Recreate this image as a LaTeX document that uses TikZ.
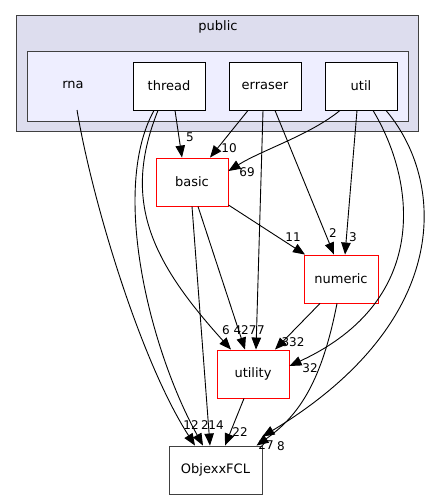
\documentclass[tikz,border=0pt]{standalone}
\usepackage{fontspec}
\setmainfont{DejaVu Sans}
\usetikzlibrary{arrows.meta}
\definecolor{clouter}{HTML}{DDDDEE}
\definecolor{clinner}{HTML}{EEEEFF}
\definecolor{clline}{HTML}{404040}
\begin{document}
\begin{tikzpicture}[x=1pt,y=-1pt,
  box/.style={draw=black,fill=white,minimum width=72pt,minimum height=48pt,inner sep=0pt,line width=0.9pt,font=\fontsize{13}{15}\selectfont},
  redbox/.style={box,draw=red},
  lbl/.style={font=\fontsize{12}{14}\selectfont,inner sep=0pt},
  dep/.style={-{Triangle[length=12pt,width=9.5pt]},line width=0.9pt}]
\useasboundingbox (0,0) rectangle (435,500);
\fill[white] (0,0) rectangle (435,500);
% clusters
\draw[fill=clouter,draw=clline,line width=1pt] (16,16) rectangle (418,131);
\node[lbl,font=\fontsize{13}{15}\selectfont] (publbl) at (218,27) {public};
\draw[fill=clinner,draw=clline,line width=1pt] (27,52) rectangle (408,121);
% nodes
\node[lbl,font=\fontsize{13}{15}\selectfont] (rna) at (73,85) {rna};
\coordinate (rnaout) at (77,110);
\node[box] (thread) at (169,86) {thread};
\node[box] (erraser) at (265,86) {erraser};
\node[box] (util) at (361,86) {util};
\node[redbox] (basic) at (192,182) {basic};
\node[redbox,minimum width=74pt] (numeric) at (341,279) {numeric};
\node[redbox] (utility) at (253,374) {utility};
\node[box,minimum width=93pt,draw=clline] (obj) at (215.5,470) {ObjexxFCL};
% labels
\node[lbl] (l5) at (190,137) {5};
\node[lbl] (l10) at (229,148) {10};
\node[lbl] (l69) at (247,172) {69};
\node[lbl] (l2a) at (333,233) {2};
\node[lbl] (l3) at (353,237) {3};
\node[lbl] (l11) at (293,237) {11};
\node[lbl] (l6) at (226,330) {6};
\node[lbl] (l427) at (245,330) {427};
\node[lbl] (l7) at (261,330) {7};
\node[lbl] (l332) at (293,342) {332};
\node[lbl] (l32) at (310,368) {32};
\node[lbl] (l12) at (191,425) {12};
\node[lbl] (l2b) at (205,425) {2};
\node[lbl] (l14) at (216,425) {14};
\node[lbl] (l22) at (240,432) {22};
\node[lbl] (l27) at (266,445) {27};
\node[lbl] (l8) at (281,446) {8};
% edges
\draw[dep] (rnaout) .. controls (92,200) and (140,360) .. ([xshift=-20.5]obj.north);
\draw[dep] ([xshift=-15]thread.south) .. controls (110,190) and (150,350) .. ([xshift=-12.5]obj.north);
\draw[dep] ([xshift=-11]thread.south) .. controls (122,200) and (150,260) .. ([xshift=-22]utility.north);
\draw[dep] ([xshift=6]thread.south) -- ([xshift=-10]basic.north);
\draw[dep] ([xshift=-17]erraser.south) -- ([xshift=18]basic.north);
\draw[dep] ([xshift=-2]erraser.south) -- ([xshift=3]utility.north);
\draw[dep] ([xshift=10]erraser.south) -- ([xshift=-7]numeric.north);
\draw[dep] ([xshift=-21]util.south) .. controls (310,135) and (262,150) .. ([yshift=11]basic.east);
\draw[dep] ([xshift=-4]util.south) -- ([xshift=4]numeric.north);
\draw[dep] ([xshift=12]util.south) .. controls (415,180) and (432,300) .. ([yshift=8]utility.east);
\draw[dep] ([xshift=25]util.south) .. controls (445,180) and (455,320) .. ([yshift=9]obj.north east);
\draw[dep] ([yshift=-23]basic.east) -- ([xshift=-36]numeric.north);
\draw[dep] ([xshift=6]basic.south) -- ([xshift=-8]utility.north);
\draw[dep] (basic.south) -- ([xshift=-5.5]obj.north);
\draw[dep] ([xshift=-21]numeric.south) -- ([xshift=22]utility.north);
\draw[dep] ([xshift=-4]numeric.south) .. controls (322,380) and (300,415) .. ([xshift=41]obj.north);
\draw[dep] ([xshift=-9]utility.south) -- ([xshift=9.5]obj.north);
\end{tikzpicture}
\end{document}
